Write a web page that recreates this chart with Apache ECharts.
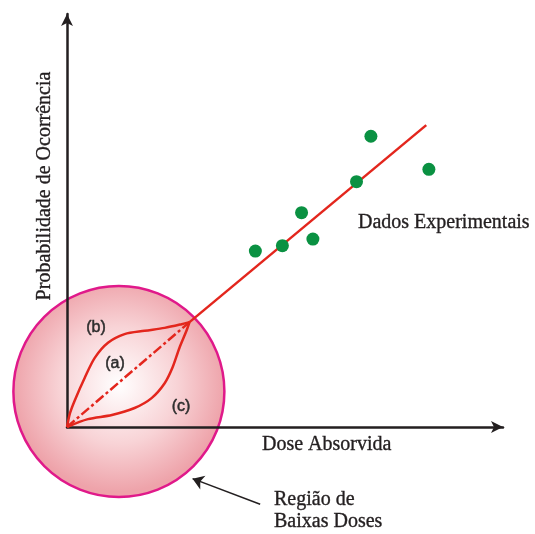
<!DOCTYPE html>
<html>
<head>
<meta charset="utf-8">
<script src="https://cdn.jsdelivr.net/npm/echarts@6/dist/echarts.min.js"></script>
<style>html,body{margin:0;padding:0;background:#fff}#c{width:535px;height:534px}</style>
</head>
<body>
<div id="c"></div>
<script>
// Data (abstract units: dose 0-100, probability 0-100)
const expX = [43.2, 49.4, 53.8, 56.4, 66.4, 69.7, 83.0];
const expY = [42.6, 43.9, 51.9, 45.5, 59.4, 70.4, 62.4];
const linearDashedX = [0, 28.1];
const linearDashedY = [0, 25.4];
const linearSolidX = [28.1, 82.4];
const linearSolidY = [25.4, 73.1];
const curveBX = [0, 0.7, 1.8, 4.1, 6.4, 9.4, 13.2, 17.8, 22.4, 26.3, 28.1];
const curveBY = [0, 3.4, 6.5, 12.0, 16.8, 20.4, 22.5, 23.3, 24.0, 24.9, 25.4];
const curveCX = [0, 4.8, 10.3, 15.5, 19.4, 22.4, 24.2, 25.8, 27.4, 28.1];
const curveCY = [0, 1.9, 2.9, 4.6, 7.0, 10.6, 14.4, 19.2, 23.3, 25.4];
const lowDoseCenter = [11.9, 8.6];
const pointerFrom = [44.3, -18.7];
const pointerTo = [28.8, -12.5];
const xAxisName = 'Dose Absorvida';
const yAxisName = 'Probabilidade de Ocorrência';
const expLabel = 'Dados Experimentais';
const regionLabel = 'Região de\nBaixas Doses';

const zip = (xs, ys) => xs.map((x, i) => [x, ys[i]]);
const serif = '"Liberation Serif", "DejaVu Serif", serif';
const sans = '"Liberation Sans", Arial, sans-serif';
const red = '#e3261d';
const ink = '#231f20';

const serifText = (text, x, y, extra) => ({
  type: 'text', x, y, z: 10,
  style: Object.assign({ text, font: '20px ' + serif, fill: ink, stroke: ink, lineWidth: 0.35,
    align: 'left', verticalAlign: 'middle' }, extra || {})
});
const tagText = (text, x, y) => ({
  type: 'text', x, y, z: 10,
  style: { text, font: '16px ' + sans, fill: '#2e2e2e', stroke: '#2e2e2e', lineWidth: 0.5,
    align: 'center', verticalAlign: 'middle' }
});

const chart = echarts.init(document.getElementById('c'));
chart.setOption({
  animation: false,
  grid: { left: 67, top: 14, right: 32, bottom: 107 },
  xAxis: {
    type: 'value', min: 0, max: 100, z: 1,
    axisLine: { show: true, onZero: false, symbol: ['none', 'arrow'], symbolSize: [9, 12], lineStyle: { color: ink, width: 2.5 } },
    axisTick: { show: false }, axisLabel: { show: false }, splitLine: { show: false }
  },
  yAxis: {
    type: 'value', min: 0, max: 100, z: 1,
    axisLine: { show: true, onZero: false, symbol: ['none', 'arrow'], symbolSize: [9, 12], lineStyle: { color: ink, width: 2.5 } },
    axisTick: { show: false }, axisLabel: { show: false }, splitLine: { show: false }
  },
  series: [
    {
      type: 'scatter', z: 0, clip: false, silent: true,
      data: [lowDoseCenter], symbolSize: 211,
      itemStyle: {
        color: { type: 'radial', x: 0.5, y: 0.47, r: 0.5, colorStops: [
          { offset: 0, color: '#ffffff' }, { offset: 0.55, color: '#f8d3d6' }, { offset: 1, color: '#eea3aa' } ] },
        borderColor: '#e0198a', borderWidth: 2.5, opacity: 1
      }
    },
    {
      type: 'line', z: 3, data: zip(linearDashedX, linearDashedY), showSymbol: false,
      lineStyle: { color: red, width: 2.5, type: [10, 3, 3, 3] }
    },
    {
      type: 'line', z: 3, data: zip(linearSolidX, linearSolidY), showSymbol: false,
      lineStyle: { color: red, width: 2.5 }
    },
    {
      type: 'line', z: 3, data: zip(curveBX, curveBY), showSymbol: false, smooth: 0.3,
      lineStyle: { color: red, width: 2.5 }
    },
    {
      type: 'line', z: 3, data: zip(curveCX, curveCY), showSymbol: false, smooth: 0.3,
      lineStyle: { color: red, width: 2.5 }
    },
    {
      type: 'scatter', z: 4, data: zip(expX, expY), symbolSize: 13,
      itemStyle: { color: '#0a9142', opacity: 1 }
    },
    {
      type: 'lines', coordinateSystem: 'cartesian2d', clip: false, z: 4,
      data: [{ coords: [pointerFrom, pointerTo] }],
      symbol: ['none', 'arrow'], symbolSize: 11,
      lineStyle: { color: ink, width: 1.6, opacity: 1 }
    }
  ],
  graphic: [
    Object.assign(serifText(yAxisName, 45, 186, { align: 'center' }), { rotation: Math.PI / 2 }),
    serifText(xAxisName, 262, 445),
    serifText(expLabel, 358, 223),
    serifText(regionLabel, 274, 511, { lineHeight: 22 }),
    tagText('(b)', 96, 328),
    tagText('(a)', 115, 364),
    tagText('(c)', 181, 407)
  ]
});
</script>
</body>
</html>
